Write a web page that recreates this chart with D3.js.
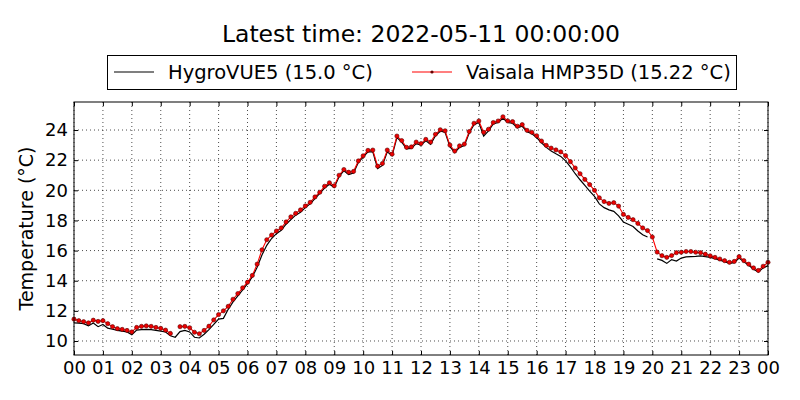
<!DOCTYPE html>
<html lang="en">
<head>
    <meta charset="UTF-8">
    <title>Temperature</title>
    <script src="https://d3js.org/d3.v7.min.js"></script>
    <style>
        body { margin: 0; background: #fff; }
        svg text { font-family: "DejaVu Sans", sans-serif; fill: #000; }
    </style>
</head>
<body>
    <svg id="chart"></svg>
    <script>
        // 10-minute readings from 2022-05-10 00:00 to 2022-05-11 00:00 (null = missing)
        const hygroVUE5 = [
            11.2, 11.18, 11.15, 11.0, 11.2, 10.95, 11.1, 10.85, 10.78, 10.7, 10.65, 10.6,
            10.42, 10.72, 10.75, 10.77, 10.75, 10.7, 10.66, 10.6, 10.35, 10.25, 10.62, 10.7,
            10.6, 10.25, 10.2, 10.45, 10.75, 11.1, 11.45, 11.5, 12.1, 12.6, 13.0, 13.4,
            13.8, 14.25, 14.9, 15.7, 16.35, 16.8, 17.12, 17.35, 17.75, 18.05, 18.35, 18.55,
            18.85, 19.1, 19.45, 19.8, 20.15, 20.4, 20.2, 20.9, 21.3, 21.05, 21.15, 21.85,
            22.2, 22.55, 22.55, 21.45, 21.65, 22.55, 22.3, 23.5, 23.2, 22.75, 22.78, 23.1,
            23.0, 23.28, 23.05, 23.62, 23.92, 23.85, 22.9, 22.5, 22.85, 22.97, 23.8, 24.35,
            24.5, 23.6, 23.95, 24.4, 24.5, 24.78, 24.5, 24.45, 24.15, 24.25, 23.88, 23.75,
            23.5, 23.15, 22.85, 22.6, 22.42, 22.25, 21.95, 21.55, 21.1, 20.7, 20.32, 19.95,
            19.6, 19.1, 18.85, 18.7, 18.6, 18.3, 17.9, 17.75, 17.6, 17.3, 17.05, 16.9,
            null, 15.45, 15.35, 15.15, 15.4, 15.3, 15.5, 15.58, 15.6, 15.62, 15.65, 15.6,
            15.55, 15.47, 15.37, 15.26, 15.15, 15.2, 15.5, 15.25, 15.02, 14.76, 14.58, 14.85,
            15.0
        ];
        const hmp35d = [
            11.45, 11.35, 11.28, 11.2, 11.38, 11.3, 11.35, 11.15, 10.95, 10.82, 10.77, 10.7,
            10.6, 10.9, 10.97, 11.0, 10.97, 10.9, 10.84, 10.72, 10.5, null, 10.95, 10.97,
            10.88, 10.58, 10.48, 10.7, 10.98, 11.4, 11.75, 12.0, 12.3, 12.77, 13.15, 13.53,
            13.9, 14.35, 15.1, 16.05, 16.72, 17.03, 17.3, 17.5, 17.9, 18.24, 18.47, 18.7,
            18.96, 19.2, 19.56, 19.87, 20.27, 20.5, 20.3, 21.0, 21.38, 21.2, 21.25, 21.95,
            22.29, 22.65, 22.67, 21.6, 21.78, 22.67, 22.4, 23.6, 23.3, 22.85, 22.88, 23.2,
            23.1, 23.38, 23.2, 23.72, 24.02, 23.95, 23.0, 22.6, 22.95, 23.07, 23.9, 24.45,
            24.6, 23.85, 24.05, 24.5, 24.6, 24.88, 24.6, 24.56, 24.25, 24.36, 23.98, 23.85,
            23.62, 23.27, 22.98, 22.8, 22.68, 22.55, 22.3, 21.9, 21.48, 21.1, 20.72, 20.38,
            20.0, 19.5, 19.25, 19.13, 19.18, 18.95, 18.4, 18.2, 18.05, 17.8, 17.5, 17.33,
            16.9, 15.9, 15.66, 15.55, 15.67, 15.86, 15.89, 15.94, 15.94, 15.89, 15.86, 15.76,
            15.65, 15.55, 15.44, 15.33, 15.22, 15.28, 15.6, 15.33, 15.1, 14.85, 14.68, 14.96,
            15.22
        ];
        const yTicks = [10, 12, 14, 16, 18, 20, 22, 24];
        const titleText = "Latest time: 2022-05-11 00:00:00";
        const seriesLabels = ["HygroVUE5 (15.0 °C)", "Vaisala HMP35D (15.22 °C)"];

        const start = new Date(2022, 4, 10, 0, 0);
        const end = new Date(2022, 4, 11, 0, 0);
        const stepMs = 10 * 60 * 1000;
        const toRows = vals => vals.map((v, i) => ({ t: new Date(start.getTime() + i * stepMs), v: v }));
        const black = toRows(hygroVUE5);
        const red = toRows(hmp35d);

        const margin = { top: 102, right: 32, bottom: 45, left: 74 };
        const width = 800 - margin.left - margin.right;
        const height = 400 - margin.top - margin.bottom;

        const root = d3.select("#chart").attr("width", 800).attr("height", 400);
        const svg = root.append("g").attr("transform", `translate(${margin.left},${margin.top})`);

        const x = d3.scaleTime().domain([start, end]).range([0, width]);
        const y = d3.scaleLinear().domain([9.07, 25.86]).range([height, 0]);
        const hours = d3.timeHour.range(start, d3.timeHour.offset(end, 1));

        // dotted grid
        svg.append("g").selectAll("line").data(hours).enter().append("line")
           .attr("x1", d => x(d)).attr("x2", d => x(d))
           .attr("y1", 0).attr("y2", height)
           .attr("stroke", "#000").attr("stroke-width", 0.7).attr("stroke-dasharray", "1,3");
        svg.append("g").selectAll("line").data(yTicks).enter().append("line")
           .attr("x1", 0).attr("x2", width)
           .attr("y1", d => y(d)).attr("y2", d => y(d))
           .attr("stroke", "#000").attr("stroke-width", 0.7).attr("stroke-dasharray", "1,3");

        const line = d3.line()
                       .defined(d => d.v !== null)
                       .x(d => x(d.t))
                       .y(d => y(d.v));

        svg.append("path").datum(black)
           .attr("fill", "none").attr("stroke", "#000").attr("stroke-width", 1.2)
           .attr("d", line);

        svg.append("path").datum(red)
           .attr("fill", "none").attr("stroke", "#f00").attr("stroke-width", 1.1)
           .attr("d", line);

        svg.append("g").selectAll("circle").data(red.filter(d => d.v !== null)).enter().append("circle")
           .attr("cx", d => x(d.t)).attr("cy", d => y(d.v)).attr("r", 2.1)
           .attr("fill", "#e00").attr("stroke", "#500").attr("stroke-width", 0.6);

        // axes with inward ticks on all four sides
        const fmt = d3.timeFormat("%H");
        const bottom = svg.append("g").attr("transform", `translate(0,${height})`)
           .call(d3.axisBottom(x).tickValues(hours).tickFormat(fmt).tickSizeInner(-4).tickSizeOuter(0).tickPadding(6));
        svg.append("g")
           .call(d3.axisTop(x).tickValues(hours).tickFormat("").tickSizeInner(-4).tickSizeOuter(0));
        const left = svg.append("g")
           .call(d3.axisLeft(y).tickValues(yTicks).tickSizeInner(-4).tickSizeOuter(0).tickPadding(6));
        svg.append("g").attr("transform", `translate(${width},0)`)
           .call(d3.axisRight(y).tickValues(yTicks).tickFormat("").tickSizeInner(-4).tickSizeOuter(0));

        svg.selectAll(".domain").remove();
        svg.selectAll(".tick line").attr("stroke", "#000");
        bottom.selectAll("text").style("font-size", "18px");
        left.selectAll("text").style("font-size", "18px");

        svg.append("rect").attr("width", width).attr("height", height)
           .attr("fill", "none").attr("stroke", "#000").attr("stroke-width", 1);

        svg.append("text")
           .attr("transform", "rotate(-90)")
           .attr("x", -height / 2).attr("y", -41)
           .style("text-anchor", "middle").style("font-size", "19px")
           .text("Temperature (°C)");

        root.append("text")
            .attr("x", margin.left + width / 2).attr("y", 42)
            .style("text-anchor", "middle").style("font-size", "23.5px")
            .text(titleText);

        // legend
        const legend = root.append("g");
        legend.append("rect").attr("x", 107.5).attr("y", 55.5).attr("width", 629).attr("height", 34)
              .attr("fill", "#fff").attr("stroke", "#000").attr("stroke-width", 1);
        const entries = [
            { x: 114, color: "#000", marker: false, label: seriesLabels[0] },
            { x: 412, color: "#f00", marker: true, label: seriesLabels[1] }
        ];
        const entry = legend.selectAll(".entry").data(entries).enter().append("g")
                            .attr("transform", d => `translate(${d.x},72)`);
        entry.append("line").attr("x1", 0).attr("x2", 40)
             .attr("stroke", d => d.color).attr("stroke-width", 1.1);
        entry.filter(d => d.marker).append("circle").attr("cx", 20).attr("r", 1.6)
             .attr("fill", "#600");
        entry.append("text").attr("x", 54).attr("dy", "0.35em")
             .style("font-size", "19.5px").text(d => d.label);
    </script>
</body>
</html>
